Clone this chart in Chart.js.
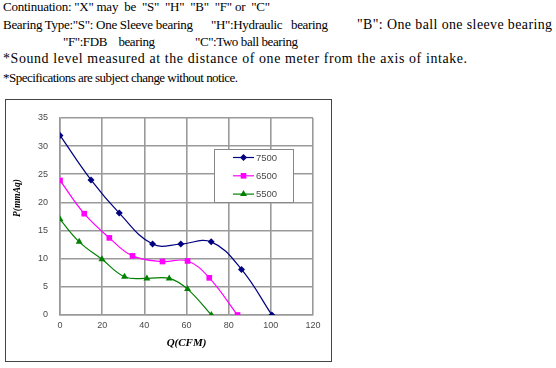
<!DOCTYPE html>
<html>
<head>
<meta charset="utf-8">
<script src="https://cdn.jsdelivr.net/npm/chart.js@4/dist/chart.umd.min.js"></script>
<style>
  html, body { margin: 0; padding: 0; background: #fff; }
  body { width: 556px; height: 368px; position: relative; overflow: hidden;
         font-family: "Liberation Serif", "Times New Roman", serif; font-size: 13px; color: #000; }
  .t { position: absolute; white-space: pre; line-height: 16px; }
  #frame { position: absolute; left: 5px; top: 99px; width: 325px; height: 261px; border: 1px solid #444; }
  #wrap { position: absolute; left: 6px; top: 100px; width: 325px; height: 261px; }
</style>
</head>
<body>
<div class="t" data-w="267" style="left:3px;top:-1px">Continuation: "X" may  be  "S"  "H"  "B"  "F" or  "C"</div>
<div class="t" data-w="190" style="left:3px;top:17px">Bearing Type:"S": One Sleeve bearing</div>
<div class="t" data-w="117" style="left:211px;top:17px">"H":Hydraulic   bearing</div>
<div class="t" data-w="195" style="left:357px;top:17px">"B": One ball one sleeve bearing</div>
<div class="t" data-w="92" style="left:63px;top:34px">"F":FDB    bearing</div>
<div class="t" data-w="103" style="left:195px;top:34px">"C":Two ball bearing</div>
<div class="t" data-w="464" style="left:3px;top:51px">*Sound level measured at the distance of one meter from the axis of intake.</div>
<div class="t" data-w="235" style="left:3px;top:70px">*Specifications are subject change without notice.</div>
<div id="frame"></div>
<div id="wrap"><canvas id="pqChart" width="325" height="261"></canvas></div>
<script>
// Airflow Q (CFM) and static pressure P (mmAq) per speed
const q7500 = [0, 14.7, 28.1, 43.9, 57.3, 71.7, 86.1, 100.5];
const p7500 = [31.9, 24.0, 18.1, 12.6, 12.6, 13.0, 8.1, 0];
const q6500 = [0, 11.5, 23.4, 34.4, 48.6, 60.5, 70.8, 84.2];
const p6500 = [23.9, 18.0, 13.7, 10.5, 9.5, 9.6, 6.6, 0];
const q5500 = [0, 9.1, 19.9, 30.6, 41.2, 51.8, 60.5, 71.8];
const p5500 = [17.0, 13.0, 9.9, 6.8, 6.5, 6.5, 4.6, 0];

const seriesLabels = ['7500', '6500', '5500'];
const seriesColors = ['#000080', '#ff00ff', '#008000'];
const seriesMarkers = ['rectRot', 'rect', 'triangle'];
const markerSizes = [3.5, 4, 4];

const xTicks = [0, 20, 40, 60, 80, 100, 120];
const yTicks = [0, 5, 10, 15, 20, 25, 30, 35];

const gridColor = '#9a9a9a';
const tickColor = '#4a4a4a';

// the sheet text is a mix of fonts, fit each line to its width:
// grow the font a little first, then take up the rest with spacing
document.querySelectorAll('.t[data-w]').forEach(el => {
  const target = +el.dataset.w;
  let natural = el.getBoundingClientRect().width;
  if (target > natural) {
    const grow = Math.min(target / natural, 1.07);
    el.style.fontSize = (13 * grow).toFixed(2) + 'px';
    natural = el.getBoundingClientRect().width;
  }
  const n = el.textContent.length - 1;
  el.style.letterSpacing = ((target - natural) / n).toFixed(3) + 'px';
});

function toPoints(qs, ps) {
  return qs.map((q, i) => ({ x: q, y: ps[i] }));
}

const seriesData = [toPoints(q7500, p7500), toPoints(q6500, p6500), toPoints(q5500, p5500)];

// draws one marker like the legend in the sheet
function drawMarker(ctx, style, x, y, r, color) {
  ctx.save();
  ctx.fillStyle = color;
  ctx.beginPath();
  if (style === 'rect') {
    const s = r * Math.SQRT1_2;
    ctx.rect(x - s, y - s, 2 * s, 2 * s);
  } else if (style === 'rectRot') {
    ctx.moveTo(x, y - r);
    ctx.lineTo(x + r, y);
    ctx.lineTo(x, y + r);
    ctx.lineTo(x - r, y);
    ctx.closePath();
  } else {
    ctx.moveTo(x, y - r);
    ctx.lineTo(x + r * 0.866, y + r * 0.5);
    ctx.lineTo(x - r * 0.866, y + r * 0.5);
    ctx.closePath();
  }
  ctx.fill();
  ctx.restore();
}

// Legend box with white fill over the grid, plus the vertical P title
const legendBox = {
  id: 'legendBox',
  afterDraw(chart) {
    const ctx = chart.ctx;
    const area = chart.chartArea;
    const bx = area.left + 154, by = area.top + 31, bw = 79, bh = 53;
    ctx.save();
    ctx.fillStyle = '#fff';
    ctx.fillRect(bx, by, bw, bh);
    ctx.strokeStyle = '#888';
    ctx.lineWidth = 1;
    ctx.strokeRect(Math.round(bx) + 0.5, Math.round(by) + 0.5, bw, bh);
    ctx.font = '9.5px "Liberation Sans", Arial, sans-serif';
    ctx.textBaseline = 'middle';
    ctx.textAlign = 'left';
    seriesLabels.forEach((lbl, i) => {
      const y = by + 8.5 + i * 18.3;
      ctx.strokeStyle = seriesColors[i];
      ctx.lineWidth = 1.2;
      ctx.beginPath();
      ctx.moveTo(bx + 19, y);
      ctx.lineTo(bx + 40, y);
      ctx.stroke();
      drawMarker(ctx, seriesMarkers[i], bx + 29.5, y, markerSizes[i], seriesColors[i]);
      ctx.fillStyle = tickColor;
      ctx.fillText(lbl, bx + 42, y + 0.5);
    });

    // y title sits higher than the middle of the axis in the sheet
    ctx.translate(12, 98);
    ctx.rotate(-Math.PI / 2);
    ctx.font = 'italic bold 9.5px "Liberation Serif", "Times New Roman", serif';
    ctx.fillStyle = '#000';
    ctx.textAlign = 'center';
    ctx.fillText('P(mmAq)', 0, 0);
    ctx.restore();
  }
};

const ctxPq = document.getElementById('pqChart').getContext('2d');
new Chart(ctxPq, {
  type: 'line',
  data: {
    datasets: seriesLabels.map((lbl, i) => ({
      label: lbl,
      data: seriesData[i],
      borderColor: seriesColors[i],
      backgroundColor: seriesColors[i],
      borderWidth: 1.2,
      pointStyle: seriesMarkers[i],
      pointRadius: markerSizes[i],
      pointBorderWidth: 0,
      tension: 0.4,
      fill: false
    }))
  },
  options: {
    responsive: false,
    devicePixelRatio: 1,
    animation: false,
    layout: { padding: { top: 18, right: 18, left: 0, bottom: 0 } },
    plugins: { legend: { display: false }, tooltip: { enabled: false } },
    scales: {
      x: {
        type: 'linear',
        min: 0,
        max: 120,
        afterBuildTicks: (s) => { s.ticks = xTicks.map(v => ({ value: v })); },
        afterFit: (s) => { s.height = 46; },
        grid: { color: gridColor, lineWidth: 1.6, drawTicks: false },
        border: { color: gridColor, width: 1.6 },
        ticks: { color: tickColor, padding: 5, font: { family: '"Liberation Sans", Arial, sans-serif', size: 9 } },
        title: {
          display: true,
          text: 'Q(CFM)',
          color: '#000',
          padding: { top: 0, bottom: 11.4 },
          font: { family: '"Liberation Serif", "Times New Roman", serif', size: 11, style: 'italic', weight: 'bold' }
        }
      },
      y: {
        min: 0,
        max: 35,
        afterBuildTicks: (s) => { s.ticks = yTicks.map(v => ({ value: v })); },
        afterFit: (s) => { s.width = 54; },
        grid: { color: gridColor, lineWidth: 1.6, drawTicks: false },
        border: { color: gridColor, width: 1.6 },
        ticks: { color: tickColor, padding: 12, font: { family: '"Liberation Sans", Arial, sans-serif', size: 9 } }
      }
    }
  },
  plugins: [legendBox]
});
</script>
</body>
</html>
